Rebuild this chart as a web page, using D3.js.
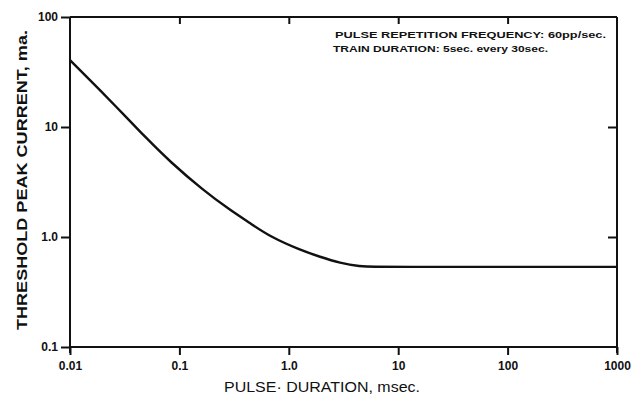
<!DOCTYPE html>
<html>
<head>
<meta charset="utf-8">
<script src="https://cdn.jsdelivr.net/npm/d3@7/dist/d3.min.js"></script>
<style>
  html, body { margin: 0; padding: 0; background: #fff; }
  svg { display: block; }
  text { font-family: "Liberation Sans", "DejaVu Sans", sans-serif; fill: #111; }
</style>
</head>
<body>
<svg id="chart" width="635" height="397"></svg>
<script>
// Data
const duration = [0.01, 0.02, 0.03, 0.05, 0.082, 0.164, 0.29, 0.44, 0.67, 1.27, 1.93, 2.94, 4.5, 6, 10, 100, 1000];
const current  = [40.6, 20.3, 13.4, 7.9, 4.84, 2.67, 1.76, 1.34, 1.01, 0.762, 0.66, 0.58, 0.54, 0.535, 0.535, 0.535, 0.535];
const xTicks = [0.01, 0.1, 1, 10, 100, 1000];
const xTickLabels = ["0.01", "0.1", "1.0", "10", "100", "1000"];
const yTicks = [0.1, 1, 10, 100];
const yTickLabels = ["0.1", "1.0", "10", "100"];
const notes = ["PULSE REPETITION FREQUENCY:  60pp/sec.", "TRAIN DURATION:  5sec.  every  30sec."];

const svg = d3.select("#chart");
const L = 70, R = 617, T = 17, B = 347;

const x = d3.scaleLog().domain([0.01, 1000]).range([L, R]);
const y = d3.scaleLog().domain([0.1, 100]).range([B, T]);

// Frame
const frame = svg.append("g").attr("stroke", "#111").attr("stroke-width", 2).attr("fill", "none");
frame.append("line").attr("x1", L).attr("x2", R).attr("y1", T).attr("y2", T);
frame.append("line").attr("x1", R).attr("x2", R).attr("y1", T).attr("y2", B + 6);
frame.append("line").attr("x1", L).attr("x2", R).attr("y1", B).attr("y2", B);
frame.append("line").attr("x1", L).attr("x2", L).attr("y1", T).attr("y2", B + 6);

// Bottom axis
const xAxis = d3.axisBottom(x).tickValues(xTicks)
  .tickFormat((d, i) => xTickLabels[i]).tickSize(8).tickPadding(6);
const gx = svg.append("g").attr("transform", `translate(0,${B})`).call(xAxis);
gx.select(".domain").remove();
gx.selectAll(".tick line").attr("stroke", "#111").attr("stroke-width", 2);
gx.selectAll(".tick text").attr("font-size", 12).attr("font-weight", "bold")
  .style("font-family", "'Liberation Sans', sans-serif");

// Top inward ticks
const gxt = svg.append("g").attr("transform", `translate(0,${T})`)
  .call(d3.axisBottom(x).tickValues(xTicks.slice(1, -1)).tickFormat("").tickSize(7));
gxt.select(".domain").remove();
gxt.selectAll(".tick line").attr("stroke", "#111").attr("stroke-width", 2);

// Left axis
const yAxis = d3.axisLeft(y).tickValues(yTicks)
  .tickFormat((d, i) => yTickLabels[i]).tickSize(9).tickPadding(3);
const gy = svg.append("g").attr("transform", `translate(${L},0)`).call(yAxis);
gy.select(".domain").remove();
gy.selectAll(".tick line").attr("stroke", "#111").attr("stroke-width", 2);
gy.selectAll(".tick text").attr("font-size", 12).attr("font-weight", "bold");

// Right inward ticks
const gyr = svg.append("g").attr("transform", `translate(${R},0)`)
  .call(d3.axisRight(y).tickValues(yTicks.slice(1, -1)).tickFormat("").tickSize(-9));
gyr.select(".domain").remove();
gyr.selectAll(".tick line").attr("stroke", "#111").attr("stroke-width", 2);

// Curve
const line = d3.line()
  .x((d, i) => x(duration[i]))
  .y((d, i) => y(current[i]))
  .curve(d3.curveBasis);
svg.append("path").datum(current).attr("d", line)
  .attr("fill", "none").attr("stroke", "#111").attr("stroke-width", 2.4);

// Annotation
svg.append("text").attr("x", 335).attr("y", 38).attr("font-size", 9).attr("font-weight", "bold")
  .attr("textLength", 271).attr("lengthAdjust", "spacingAndGlyphs").text(notes[0]);
svg.append("text").attr("x", 333).attr("y", 52).attr("font-size", 9).attr("font-weight", "bold")
  .attr("textLength", 215).attr("lengthAdjust", "spacingAndGlyphs").text(notes[1]);

// Axis titles
svg.append("text").attr("x", 224).attr("y", 392).attr("font-size", 14)
  .attr("textLength", 196).attr("lengthAdjust", "spacingAndGlyphs")
  .text("PULSE· DURATION, msec.");
svg.append("text").attr("transform", "translate(27,330) rotate(-90)")
  .attr("font-size", 14).attr("font-weight", "bold")
  .attr("textLength", 300).attr("lengthAdjust", "spacingAndGlyphs")
  .text("THRESHOLD  PEAK  CURRENT,  ma.");
</script>
</body>
</html>
